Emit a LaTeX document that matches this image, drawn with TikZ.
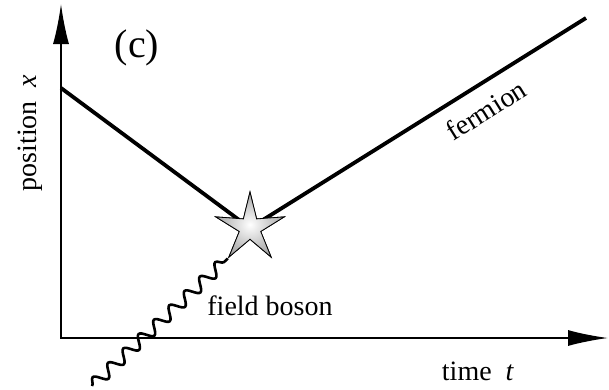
\documentclass[tikz,border=0pt]{standalone}
\usepackage{fontspec}
\setmainfont{Liberation Serif}
\usetikzlibrary{arrows.meta,decorations.pathmorphing,shapes.geometric}
\begin{document}
\begin{tikzpicture}[x=1pt,y=-1pt,
  axis/.style={line width=1.6pt,-{Latex[length=40pt,width=16pt]}},
  fermionline/.style={line width=3.8pt},
  boson/.style={line width=2.6pt,decorate,decoration={snake,segment length=21pt,amplitude=6pt}},
  lbl/.style={font=\fontsize{28}{30}\selectfont,inner sep=0pt},
  vertex/.style={star,star points=5,star point ratio=3.2,minimum size=72pt,inner sep=0pt,
     draw=black,line width=0.8pt,inner color=white,outer color=gray!70}]
\useasboundingbox (0,0) rectangle (609,389);
\coordinate (O) at (61,338);
\coordinate (ytip) at (61,4);
\coordinate (xtip) at (608,338);
\coordinate (A) at (61,88);
\coordinate (B) at (586,18);
\coordinate (W) at (92,386);
\node[vertex] (V) at (250,228) {};
\draw[axis] (O) -- (ytip);
\draw[axis] ([xshift=-1pt]O) -- (xtip);
\draw[fermionline] (A) -- (V.center);
\draw[fermionline] (V.center) -- (B);
\draw[boson] (W) -- (V.outer point 3);
\node[vertex] at (V.center) {};
\node[lbl,font=\fontsize{40}{42}\selectfont] (c) at (137,48) {(c)};
\node[lbl,rotate=90] (px) at (30,133) {position\ \ \textit{x}};
\node[lbl] (tt) at (478,371) {time\ \ \textit{t}};
\node[lbl,rotate=32] (fe) at (486,110) {fermion};
\node[lbl] (fb) at (270,306) {field boson};
\end{tikzpicture}
\end{document}
